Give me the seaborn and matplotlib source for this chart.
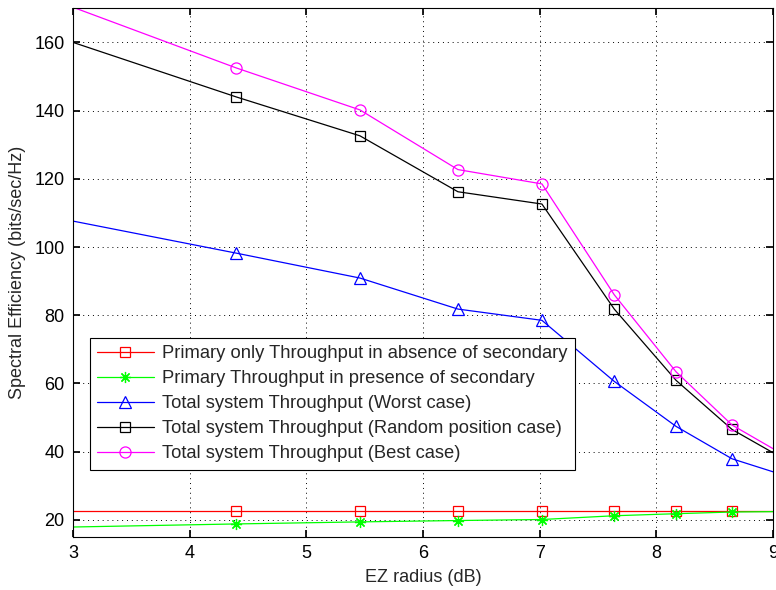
import matplotlib
matplotlib.use("Agg")
import matplotlib.pyplot as plt
import seaborn as sns
import pandas as pd

# Data
ez_radius = [3.0, 4.40, 5.46, 6.30, 7.02, 7.64, 8.17, 8.65, 9.0]
primary_only = [22.5, 22.5, 22.5, 22.5, 22.5, 22.5, 22.5, 22.5, 22.5]
primary_with_secondary = [17.9, 18.8, 19.4, 19.8, 20.1, 21.2, 21.8, 22.3, 22.4]
worst_case = [107.6, 98.2, 90.9, 81.8, 78.5, 60.6, 47.4, 37.9, 34.1]
random_case = [160.0, 144.0, 132.6, 116.2, 112.6, 81.8, 60.9, 46.5, 39.7]
best_case = [170.3, 152.5, 140.2, 122.7, 118.5, 86.0, 63.4, 47.8, 40.9]

labels = [
    "Primary only Throughput in absence of secondary",
    "Primary Throughput in presence of secondary",
    "Total system Throughput (Worst case)",
    "Total system Throughput (Random position case)",
    "Total system Throughput (Best case)",
]
series = [primary_only, primary_with_secondary, worst_case, random_case, best_case]
colors = ["#FF0000", "#00FF00", "#0000FF", "#000000", "#FF00FF"]
markers = ["s", (8, 2, 0), "^", "s", "o"]
msizes = [7, 8, 9, 7, 8]

x_ticks = [3, 4, 5, 6, 7, 8, 9]
y_ticks = [20, 40, 60, 80, 100, 120, 140, 160]

sns.set_theme(style="white")
plt.rcParams["font.family"] = ["Liberation Sans", "DejaVu Sans"]

fig = plt.figure(figsize=(7.76, 5.90), dpi=100)
ax = fig.add_axes([0.094, 0.090, 0.902, 0.896])

for lab, ys, c, m, ms in zip(labels, series, colors, markers, msizes):
    df = pd.DataFrame({"x": ez_radius, "y": ys})
    sns.lineplot(data=df, x="x", y="y", ax=ax, color=c, marker=m,
                 markersize=ms, markerfacecolor="none", markeredgecolor=c,
                 markeredgewidth=0.9, linewidth=0.9, markevery=list(range(1, 8)),
                 label=lab, sort=False)

ax.set_xlim(3, 9)
ax.set_ylim(15, 170)
ax.set_xticks(x_ticks)
ax.set_yticks(y_ticks)
ax.grid(True, color="black", linestyle=(0, (1, 4)), linewidth=0.7)
ax.tick_params(direction="in", length=5, top=True, right=True, labelsize=13,
               bottom=True, left=True, colors="black", pad=6)
for s in ax.spines.values():
    s.set_color("black")
    s.set_linewidth(0.8)
ax.set_xlabel("EZ radius (dB)", fontsize=13, labelpad=5)
ax.set_ylabel("Spectral Efficiency (bits/sec/Hz)", fontsize=13, labelpad=6)

leg = ax.legend(loc="lower left", bbox_to_anchor=(0.024, 0.127), fontsize=13.2,
                frameon=True, fancybox=False, edgecolor="black", framealpha=1,
                borderpad=0.4, labelspacing=0.44, handlelength=3.1,
                handletextpad=0.45, borderaxespad=0)
leg.get_frame().set_linewidth(0.8)

fig.savefig("out.png", dpi=100)
